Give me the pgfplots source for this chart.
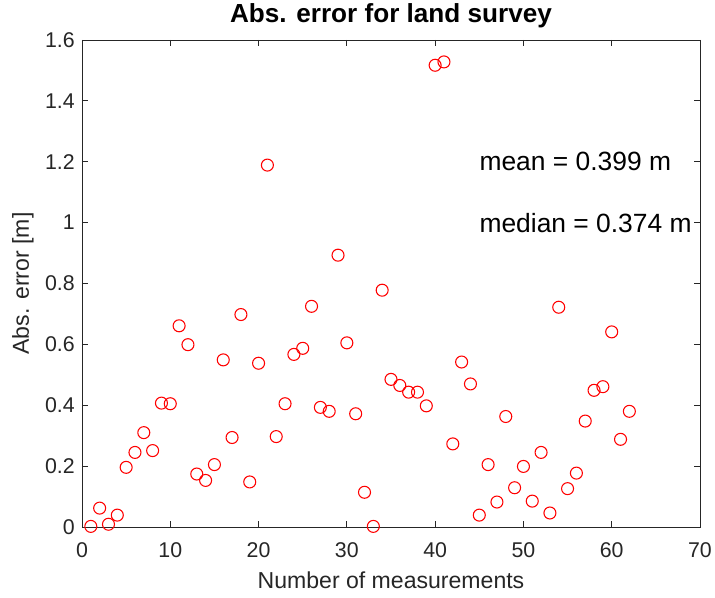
\documentclass[border=0pt]{standalone}
\usepackage{fontspec}
\setmainfont{Liberation Sans}
\usepackage{pgfplots}
\pgfplotsset{compat=1.18}
\definecolor{axgray}{rgb}{0.15,0.15,0.15}
\begin{document}
\begin{tikzpicture}
\useasboundingbox (-61.5pt,-53.25pt) rectangle (474.75pt,395.25pt);
\begin{axis}[
  scale only axis,
  width=463.5pt, height=365.25pt,
  xmin=0, xmax=70, ymin=0, ymax=1.6,
  xtick={0,10,20,30,40,50,60,70},
  ytick={0,0.2,0.4,0.6,0.8,1,1.2,1.4,1.6},
  yticklabels={0,0.2,0.4,0.6,0.8,1,1.2,1.4,1.6},
  tick align=inside,
  xtick pos=both, ytick pos=both,
  major tick length=4.5pt,
  axis line style={axgray, line width=0.6pt},
  every tick/.style={axgray, line width=0.6pt},
  /pgf/number format/assume math mode=true,
  ticklabel style={font=\fontsize{16}{18}\selectfont, text=axgray},
  xticklabel style={yshift=-8.3pt},
  yticklabel style={xshift=-1.9pt},
  xlabel={Number of measurements},
  ylabel={Abs. error [m]},
  xlabel style={font=\fontsize{17.3}{20}\selectfont, text=axgray, at={(axis description cs:0.5,-0.1253)}, anchor=base},
  ylabel style={font=\fontsize{17.3}{20}\selectfont, text=axgray, at={(axis description cs:-0.0955,0.5)}, anchor=center},
  title={Abs. error for land survey},
  title style={font=\fontsize{19.6}{23}\selectfont\bfseries, text=black, at={(axis description cs:0.5,1.0205)}, anchor=base},
]
\addplot[only marks, mark=o, mark size=4.5pt, red, mark options={line width=0.8pt}] coordinates {
(1,0.002) (2,0.062) (3,0.009) (4,0.039) (5,0.196) (6,0.245) (7,0.310) (8,0.251) (9,0.407) (10,0.405)
(11,0.661) (12,0.599) (13,0.174) (14,0.153) (15,0.205) (16,0.549) (17,0.294) (18,0.698) (19,0.148) (20,0.538)
(21,1.189) (22,0.297) (23,0.405) (24,0.567) (25,0.587) (26,0.725) (27,0.393) (28,0.380) (29,0.893) (30,0.605)
(31,0.372) (32,0.114) (33,0.002) (34,0.778) (35,0.485) (36,0.465) (37,0.443) (38,0.443) (39,0.398) (40,1.517)
(41,1.528) (42,0.273) (43,0.542) (44,0.470) (45,0.039) (46,0.205) (47,0.082) (48,0.363) (49,0.129) (50,0.199)
(51,0.085) (52,0.245) (53,0.046) (54,0.722) (55,0.126) (56,0.177) (57,0.348) (58,0.449) (59,0.461) (60,0.641)
(61,0.288) (62,0.380)
};
\node[anchor=west, inner sep=0pt, font=\fontsize{19.8}{23}\selectfont] at (axis cs:45,1.2) {mean = 0.399 m};
\node[anchor=west, inner sep=0pt, font=\fontsize{19.8}{23}\selectfont] at (axis cs:45,1.0) {median = 0.374 m};
\end{axis}
\end{tikzpicture}
\end{document}
